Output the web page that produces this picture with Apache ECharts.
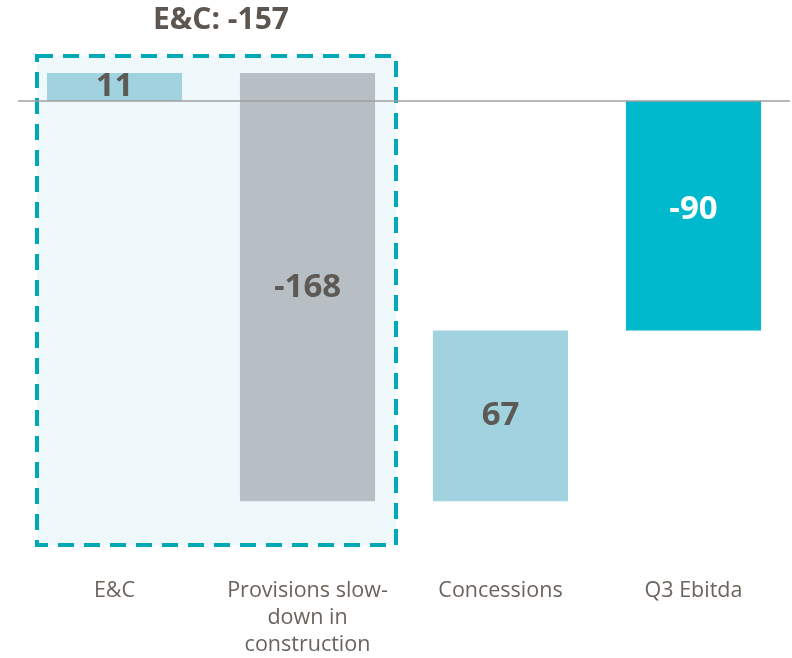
<!DOCTYPE html>
<html>
<head>
<meta charset="utf-8">
<script src="https://cdn.jsdelivr.net/npm/echarts@6/dist/echarts.min.js"></script>
<style>
html,body{margin:0;padding:0;background:#fff}
#main{width:792px;height:658px}
</style>
</head>
<body>
<div id="main"></div>
<script>
// waterfall data
var categories = ['E&C', 'Provisions slow-\ndown in\nconstruction', 'Concessions', 'Q3 Ebitda'];
var changes = [11, -168, 67, -90];
var isTotal = [false, false, false, true];
var valueLabels = ['11', '-168', '67', '-90'];
var boxTitle = 'E&C: -157';

var barColors = ['#a0d2e0', '#b7bfc5', '#a0d2e0', '#00b9cc'];
var labelColors = ['#5d5a56', '#5d5a56', '#5d5a56', '#ffffff'];

var fontFam = '"Open Sans", "Noto Sans", sans-serif';

// running totals -> [idx, start, end]
var rows = [];
var run = 0;
for (var i = 0; i < changes.length; i++) {
    if (isTotal[i]) {
        rows.push([i, 0, changes[i]]);
    } else {
        rows.push([i, run, run + changes[i]]);
        run += changes[i];
    }
}

var myChart = echarts.init(document.getElementById('main'));

function renderBar(params, api) {
    var idx = api.value(0);
    var p0 = api.coord([idx, api.value(1)]);
    var p1 = api.coord([idx, api.value(2)]);
    var w = api.size([1, 0])[0] * 0.7;
    var top = Math.min(p0[1], p1[1]);
    var h = Math.abs(p1[1] - p0[1]);
    return {
        type: 'group',
        children: [{
            type: 'rect',
            shape: { x: p0[0] - w / 2, y: top, width: w, height: h },
            style: { fill: barColors[idx] }
        }, {
            type: 'text',
            x: p0[0],
            y: top + h / 2 + (isTotal[idx] ? -6 : 0),
            style: {
                text: valueLabels[idx],
                fill: labelColors[idx],
                font: 'bold 33px ' + fontFam,
                align: 'center',
                verticalAlign: 'middle'
            }
        }]
    };
}

var option = {
    animation: false,
    title: {
        text: boxTitle,
        left: 216,
        top: 0,
        textAlign: 'center',
        textStyle: { color: '#5d5650', fontSize: 30, fontWeight: 'bold', fontFamily: fontFam }
    },
    grid: { left: 18, right: 2, top: 50, bottom: 93 },
    xAxis: {
        type: 'category',
        data: categories,
        axisLine: { show: false },
        axisTick: { show: false },
        axisLabel: {
            interval: 0,
            color: '#6b635c',
            fontSize: 21.5,
            fontFamily: fontFam,
            lineHeight: 27,
            margin: 17
        }
    },
    yAxis: {
        type: 'value',
        min: -180,
        max: 20,
        show: false,
        splitLine: { show: false }
    },
    graphic: [{
        type: 'rect',
        z: 0,
        shape: { x: 37, y: 56, width: 359, height: 489 },
        style: {
            fill: '#eff8fb',
            stroke: '#00a9b5',
            lineWidth: 4,
            lineDash: [16, 10]
        }
    }],
    series: [{
        type: 'custom',
        z: 3,
        renderItem: renderBar,
        encode: { x: 0, y: [1, 2] },
        data: rows,
        markLine: {
            silent: true,
            symbol: 'none',
            label: { show: false },
            lineStyle: { color: '#a0a0a0', width: 1.5, type: 'solid' },
            data: [{ yAxis: 0 }]
        }
    }]
};
myChart.setOption(option);
</script>
</body>
</html>
